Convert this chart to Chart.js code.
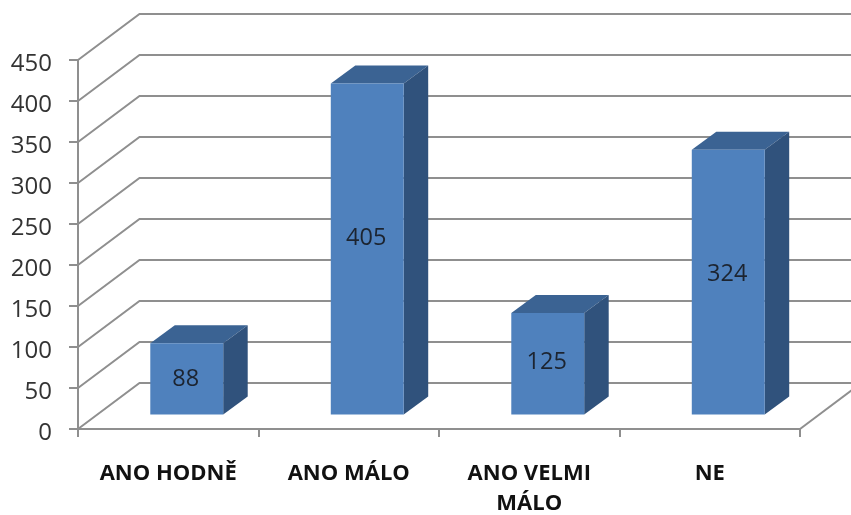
<!DOCTYPE html>
<html>
<head>
<meta charset="utf-8">
<style>
  html, body { margin: 0; padding: 0; background: #fff; }
  #box { width: 851px; height: 515px; position: relative; overflow: hidden; }
</style>
<script src="https://cdn.jsdelivr.net/npm/chart.js@4/dist/chart.umd.min.js"></script>
</head>
<body>
<div id="box"><canvas id="chart"></canvas></div>
<script>
// Data
const categories = ['ANO HODNĚ', 'ANO MÁLO', ['ANO VELMI', 'MÁLO'], 'NE'];
const values = [88, 405, 125, 324];
const yMax = 450;
const yStep = 50;

// 3D look: wall depth and bar depth
const wallDx = 61.5, wallDy = 46;
const barDx = 24.5, barDy = 18;
const shiftX = 18.5, shiftY = 13.5;

const gridColor = '#8f8f8f';

const walls = {
    id: 'walls',
    beforeDatasetsDraw(chart) {
        const { ctx, chartArea, scales } = chart;
        ctx.save();
        ctx.strokeStyle = gridColor;
        ctx.lineWidth = 2;
        scales.y.ticks.forEach(t => {
            const y = scales.y.getPixelForValue(t.value);
            ctx.beginPath();
            ctx.moveTo(chartArea.left, y);
            ctx.lineTo(chartArea.left + wallDx, y - wallDy);
            ctx.lineTo(chart.width, y - wallDy);
            ctx.stroke();
        });
        // floor edge on the right
        const y0 = scales.y.getPixelForValue(0);
        ctx.beginPath();
        ctx.moveTo(chartArea.right, y0);
        ctx.lineTo(chartArea.right + wallDx, y0 - wallDy);
        ctx.stroke();
        ctx.restore();
    }
};

const bars3d = {
    id: 'bars3d',
    beforeDatasetDraw(chart, args) {
        const ctx = chart.ctx;
        ctx.save();
        ctx.translate(shiftX, -shiftY);
        args.meta.data.forEach(bar => {
            const l = bar.x - bar.width / 2, r = bar.x + bar.width / 2;
            const t = bar.y, b = bar.base;
            ctx.fillStyle = '#3b6393';
            ctx.beginPath();
            ctx.moveTo(l, t);
            ctx.lineTo(l + barDx, t - barDy);
            ctx.lineTo(r + barDx, t - barDy);
            ctx.lineTo(r, t);
            ctx.closePath();
            ctx.fill();
            ctx.fillStyle = '#30527c';
            ctx.beginPath();
            ctx.moveTo(r, t);
            ctx.lineTo(r + barDx, t - barDy);
            ctx.lineTo(r + barDx, b - barDy);
            ctx.lineTo(r, b);
            ctx.closePath();
            ctx.fill();
        });
    },
    afterDatasetDraw(chart, args) {
        const ctx = chart.ctx;
        ctx.fillStyle = '#1c2430';
        ctx.font = '23.5px "Open Sans"';
        ctx.textAlign = 'center';
        ctx.textBaseline = 'middle';
        args.meta.data.forEach((bar, i) => {
            // labels sit a little above the middle of the front face
            const y = bar.base - (bar.base - bar.y) * 0.54 + 3;
            ctx.fillText(values[i], bar.x - 1, y);
        });
        ctx.restore();
    }
};

new Chart(document.getElementById('chart'), {
    type: 'bar',
    data: {
        labels: categories,
        datasets: [{
            data: values,
            backgroundColor: '#4f81bd',
            borderWidth: 0,
            barPercentage: 1,
            categoryPercentage: 0.404
        }]
    },
    plugins: [walls, bars3d],
    options: {
        responsive: true,
        maintainAspectRatio: false,
        animation: false,
        layout: { padding: { top: 60, right: 51, bottom: 0, left: 0 } },
        plugins: { legend: { display: false }, tooltip: { enabled: false } },
        scales: {
            x: {
                afterFit(scale) { scale.height = 86; },
                grid: { drawOnChartArea: false, color: gridColor, lineWidth: 2, tickLength: 8 },
                border: { color: gridColor, width: 2 },
                ticks: {
                    color: '#111',
                    font: { family: '"Open Sans"', size: 22, weight: 'bold', lineHeight: '30px' },
                    maxRotation: 0,
                    padding: 22
                }
            },
            y: {
                min: 0,
                max: yMax,
                afterFit(scale) { scale.width = 78; },
                grid: { drawOnChartArea: false, color: gridColor, lineWidth: 2, tickLength: 9 },
                border: { color: gridColor, width: 2 },
                ticks: {
                    stepSize: yStep,
                    autoSkip: false,
                    color: '#333',
                    // blank first line pushes the number down half a line height
                    callback: v => ['', String(v)],
                    font: { family: '"Open Sans"', size: 24, lineHeight: '8px' },
                    padding: 17
                }
            }
        }
    }
});
</script>
</body>
</html>
